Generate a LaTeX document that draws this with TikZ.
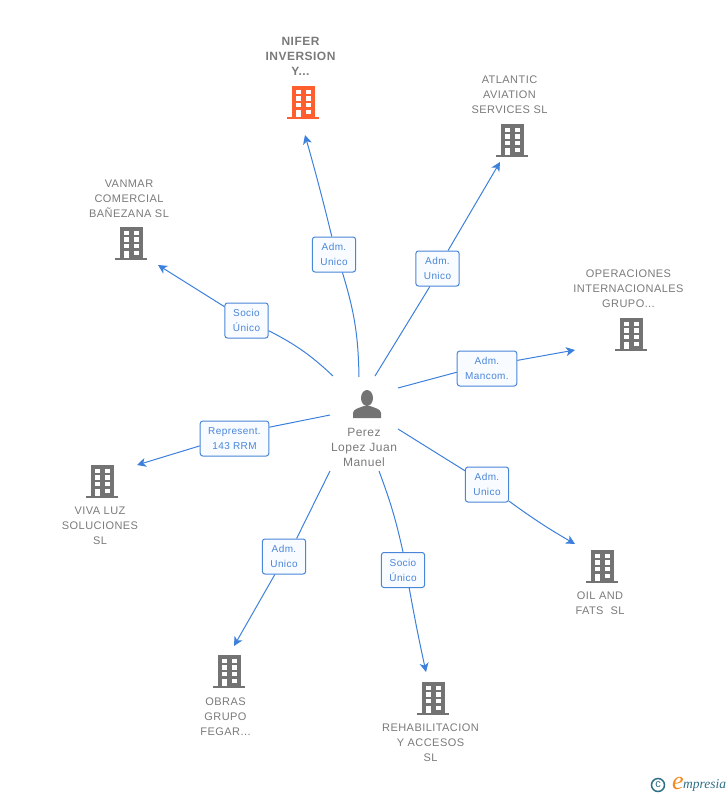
\documentclass[tikz,border=0pt]{standalone}
\usepackage{fontspec}
\setmainfont{Liberation Sans}[LetterSpace=4]
\newfontfamily\logofont{Liberation Serif}
\usetikzlibrary{arrows.meta}
\definecolor{linkblue}{HTML}{3C80DC}
\definecolor{tagblue}{HTML}{4A86D8}
\definecolor{tagfill}{HTML}{F8FBFF}
\definecolor{namegray}{HTML}{7A7A7A}
\definecolor{iconorange}{HTML}{FF5F2E}
\definecolor{icongray}{HTML}{737373}
\definecolor{logoteal}{HTML}{2F6F86}
\definecolor{logoorange}{HTML}{F28A1E}
\tikzset{
  link/.style={draw=linkblue, line width=1pt},
  arrowlink/.style={link, -{Stealth[length=9pt,width=9pt,inset=2.5pt,fill=linkblue]}},
  tag/.style={draw=tagblue, fill=tagfill, line width=1pt, rounded corners=2.5pt, text=tagblue,
    font=\fontsize{10}{15}\selectfont, align=center, minimum height=35pt, inner xsep=8pt, inner ysep=0pt},
  nametext/.style={text=namegray, font=\fontsize{11}{15}\selectfont, align=center, inner sep=0pt},
  bldg/.style={minimum width=34pt, minimum height=36pt, inner sep=0pt, path picture={
    \begin{scope}[shift={(path picture bounding box.center)}]
      \fill[#1] (-11.5,-16.5) rectangle (11.5,15);
      \fill[#1] (-16,14.5) rectangle (16,16.5);
      \foreach \wy in {-13,-6.2,0.5} {
        \fill[white] (-7.5,\wy) rectangle (-2.5,{\wy+4.4});
        \fill[white] (2.5,\wy) rectangle (7.5,{\wy+4.4});
      }
      \fill[white] (-7.5,7.2) rectangle (-2.5,14.5);
      \fill[white] (2.5,7.2) rectangle (7.5,11.5);
    \end{scope}}},
  person/.style={minimum width=30pt, minimum height=30pt, inner sep=0pt, path picture={
    \begin{scope}[shift={(path picture bounding box.center)}]
      \fill[icongray] (0,-7) ellipse (6 and 8);
      \fill[icongray] (-14,13) -- (-14,8) .. controls (-14,4) and (-8,3) .. (-3,1) -- (3,1)
        .. controls (8,3) and (14,4) .. (14,8) -- (14,13) -- cycle;
    \end{scope}}}
}
\begin{document}
\begin{tikzpicture}[x=1pt,y=-1pt]
  \useasboundingbox (0,0) rectangle (728,795);

  % centre
  \node (pe) [person] at (367,405) {};
  \node (pename) [nametext, font=\fontsize{12}{15}\selectfont] at (364,447) {Perez\\Lopez Juan\\Manuel};

  % companies
  \node (nifer) [bldg=iconorange] at (303,102.5) {};
  \node (atlantic) [bldg=icongray] at (512,140.5) {};
  \node (opera) [bldg=icongray] at (631,334.5) {};
  \node (oil) [bldg=icongray] at (602,566.5) {};
  \node (rehab) [bldg=icongray] at (433,698.5) {};
  \node (obras) [bldg=icongray] at (229,671.5) {};
  \node (viva) [bldg=icongray] at (102,481.5) {};
  \node (vanmar) [bldg=icongray] at (131,243.5) {};

  \node (nifername) [nametext, font=\fontsize{12}{15}\selectfont\bfseries] at (300.5,56) {NIFER\\INVERSION\\Y...};
  \node (atlanticname) [nametext] at (509.5,94.5) {ATLANTIC\\AVIATION\\SERVICES SL};
  \node (operaname) [nametext] at (628.5,288.5) {OPERACIONES\\INTERNACIONALES\\GRUPO...};
  \node (oilname) [nametext] at (600,603) {OIL AND\\FATS\ \ SL};
  \node (rehabname) [nametext] at (430.5,742.5) {REHABILITACION\\Y ACCESOS\\SL};
  \node (obrasname) [nametext] at (225.5,716.5) {OBRAS\\GRUPO\\FEGAR...};
  \node (vivaname) [nametext] at (100,525.5) {VIVA LUZ\\SOLUCIONES\\SL};
  \node (vanmarname) [nametext] at (129,198.5) {VANMAR\\COMERCIAL\\BAÑEZANA SL};

  % free ends
  \coordinate (s1) at (359,377);
  \coordinate (s2) at (375,376);
  \coordinate (s3) at (398,388);
  \coordinate (s4) at (398,429);
  \coordinate (s5) at (379,471);
  \coordinate (s6) at (330,471);
  \coordinate (s7) at (330,415);
  \coordinate (s8) at (333,376);
  \coordinate (e1) at (305,135);
  \coordinate (e2) at (500,162);
  \coordinate (e3) at (575,350);
  \coordinate (e4) at (575,544);
  \coordinate (e5) at (426,672);
  \coordinate (e6) at (234,646);
  \coordinate (e7) at (137,465);
  \coordinate (e8) at (158,265);

  % links
  \node (t1) [tag] at (334,254.5) {Adm.\\Unico};
  \node (t2) [tag] at (437.5,268.5) {Adm.\\Unico};
  \node (t3) [tag] at (487,368.5) {Adm.\\Mancom.};
  \node (t4) [tag] at (487,484.5) {Adm.\\Unico};
  \node (t5) [tag] at (403,570) {Socio\\Único};
  \node (t6) [tag] at (284,556.5) {Adm.\\Unico};
  \node (t7) [tag] at (234.5,438.5) {Represent.\\143 RRM};
  \node (t8) [tag] at (246.5,320.5) {Socio\\Único};

  \path (s1) edge [link, bend right=8] (t1.-65);
  \path (t1.97) edge [arrowlink, bend right=1] (e1);
  \path (s2) edge [link] (t2.-113);
  \path (t2) edge [arrowlink] (e2);
  \path (s3) edge [link] (t3.187);
  \path (t3.15) edge [arrowlink] (e3);
  \path (s4) edge [link] (t4);
  \path (t4) edge [arrowlink, bend right=3] (e4);
  \path (s5) edge [link, bend left=4] (t5.north);
  \path (t5.-71) edge [arrowlink, bend right=1] (e5);
  \path (s6) edge [link] (t6.55.6);
  \path (t6.-117) edge [arrowlink] (e6);
  \path (s7) edge [link] (t7.18);
  \path (t7.192) edge [arrowlink] (e7);
  \path (s8) edge [link, bend right=8] (t8);
  \path (t8) edge [arrowlink] (e8);

  % logo
  \node (logoc) [draw=logoteal, line width=1.5pt, circle, minimum size=13pt, inner sep=0pt,
    text=logoteal, font=\fontsize{11}{11}\selectfont] at (658,785) {c};
  \node (logoe) [text=logoorange, inner sep=0pt, font=\logofont\itshape\fontsize{26}{26}\selectfont] at (678,783) {e};
  \node (logot) [text=logoteal, anchor=west, inner sep=0pt, font=\logofont\itshape\fontsize{13.5}{14}\selectfont] at (683,785) {mpresia};
\end{tikzpicture}
\end{document}
